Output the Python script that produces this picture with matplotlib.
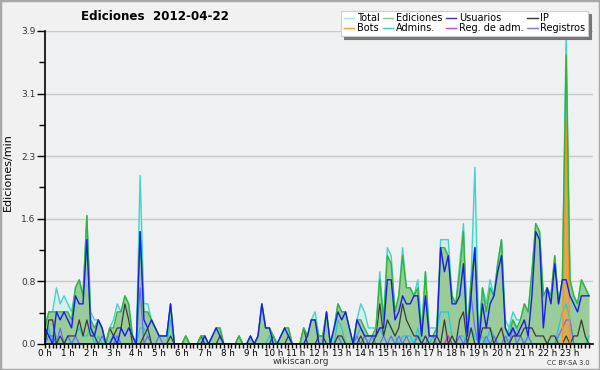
import numpy as np
import matplotlib
matplotlib.use("Agg")
import matplotlib.pyplot as plt
from matplotlib.patches import Rectangle

# Ediciones por minuto, tramos de 10 minutos (6 por hora), 2012-04-22
total = [0.2, 0.4, 0.4, 0.7, 0.5, 0.6, 0.5, 0.4, 0.7, 0.8, 0.6, 1.6,
         0.4, 0.3, 0.3, 0.2, 0.0, 0.2, 0.3, 0.5, 0.4, 0.6, 0.5, 0.1,
         0.0, 2.1, 0.5, 0.5, 0.3, 0.2, 0.1, 0.1, 0.1, 0.5, 0.0, 0.0,
         0.0, 0.1, 0.0, 0.0, 0.0, 0.1, 0.1, 0.0, 0.1, 0.2, 0.2, 0.0,
         0.0, 0.0, 0.0, 0.1, 0.0, 0.0, 0.1, 0.0, 0.1, 0.5, 0.2, 0.2,
         0.1, 0.0, 0.1, 0.2, 0.2, 0.0, 0.0, 0.0, 0.2, 0.1, 0.3, 0.4,
         0.1, 0.1, 0.4, 0.0, 0.2, 0.5, 0.4, 0.4, 0.2, 0.0, 0.3, 0.5,
         0.4, 0.2, 0.2, 0.2, 0.9, 0.3, 1.2, 1.1, 0.4, 0.6, 1.2, 0.7,
         0.7, 0.6, 0.8, 0.2, 0.9, 0.2, 0.2, 0.2, 1.3, 1.3, 1.3, 0.6,
         0.5, 1.0, 1.5, 0.2, 0.8, 2.2, 0.1, 0.7, 0.5, 0.8, 0.6, 1.0,
         1.3, 0.3, 0.2, 0.4, 0.3, 0.3, 0.5, 0.4, 0.9, 1.5, 1.4, 0.6,
         0.7, 0.6, 1.1, 0.5, 0.8, 3.9, 0.8, 0.6, 0.5, 0.8, 0.7, 0.6]
ediciones = [0.2, 0.4, 0.4, 0.4, 0.4, 0.4, 0.4, 0.3, 0.7, 0.8, 0.6, 1.6,
             0.3, 0.2, 0.3, 0.2, 0.0, 0.2, 0.2, 0.4, 0.4, 0.6, 0.5, 0.1,
             0.0, 1.4, 0.4, 0.4, 0.3, 0.2, 0.1, 0.1, 0.1, 0.5, 0.0, 0.0,
             0.0, 0.1, 0.0, 0.0, 0.0, 0.1, 0.1, 0.0, 0.1, 0.2, 0.2, 0.0,
             0.0, 0.0, 0.0, 0.1, 0.0, 0.0, 0.1, 0.0, 0.1, 0.5, 0.2, 0.2,
             0.1, 0.0, 0.1, 0.2, 0.2, 0.0, 0.0, 0.0, 0.2, 0.1, 0.3, 0.3,
             0.1, 0.1, 0.4, 0.0, 0.2, 0.5, 0.4, 0.4, 0.2, 0.0, 0.3, 0.3,
             0.2, 0.1, 0.1, 0.2, 0.8, 0.3, 1.1, 1.0, 0.4, 0.6, 1.1, 0.7,
             0.7, 0.6, 0.7, 0.1, 0.9, 0.1, 0.1, 0.2, 1.2, 1.2, 1.1, 0.6,
             0.5, 0.9, 1.4, 0.1, 0.8, 1.2, 0.0, 0.7, 0.4, 0.7, 0.6, 1.0,
             1.3, 0.2, 0.1, 0.3, 0.2, 0.3, 0.5, 0.4, 0.9, 1.5, 1.4, 0.6,
             0.7, 0.6, 1.1, 0.5, 0.8, 3.6, 0.8, 0.6, 0.5, 0.8, 0.7, 0.6]
usuarios = [0.2, 0.1, 0.0, 0.4, 0.3, 0.4, 0.3, 0.2, 0.6, 0.5, 0.5, 1.3,
            0.2, 0.1, 0.3, 0.2, 0.0, 0.0, 0.1, 0.0, 0.2, 0.1, 0.2, 0.1,
            0.0, 1.4, 0.3, 0.2, 0.3, 0.2, 0.1, 0.1, 0.1, 0.5, 0.0, 0.0,
            0.0, 0.0, 0.0, 0.0, 0.0, 0.0, 0.1, 0.0, 0.1, 0.2, 0.1, 0.0,
            0.0, 0.0, 0.0, 0.0, 0.0, 0.0, 0.1, 0.0, 0.1, 0.5, 0.2, 0.2,
            0.0, 0.0, 0.1, 0.2, 0.1, 0.0, 0.0, 0.0, 0.0, 0.1, 0.3, 0.3,
            0.0, 0.0, 0.4, 0.0, 0.2, 0.4, 0.3, 0.4, 0.2, 0.0, 0.3, 0.2,
            0.1, 0.1, 0.1, 0.1, 0.2, 0.2, 0.8, 0.8, 0.3, 0.4, 0.6, 0.5,
            0.5, 0.6, 0.6, 0.1, 0.6, 0.1, 0.1, 0.1, 1.2, 0.9, 1.1, 0.5,
            0.5, 0.6, 1.0, 0.1, 0.6, 1.2, 0.0, 0.5, 0.2, 0.5, 0.6, 0.9,
            1.1, 0.2, 0.1, 0.2, 0.1, 0.2, 0.3, 0.1, 0.6, 1.4, 1.3, 0.2,
            0.7, 0.5, 1.0, 0.5, 0.8, 0.8, 0.6, 0.5, 0.4, 0.6, 0.6, 0.6]
ip = [0.0, 0.3, 0.3, 0.0, 0.1, 0.0, 0.1, 0.1, 0.1, 0.3, 0.1, 0.3,
      0.1, 0.1, 0.0, 0.0, 0.0, 0.2, 0.1, 0.2, 0.2, 0.5, 0.3, 0.0,
      0.0, 0.0, 0.1, 0.2, 0.0, 0.0, 0.0, 0.0, 0.0, 0.1, 0.0, 0.0,
      0.0, 0.1, 0.0, 0.0, 0.0, 0.1, 0.0, 0.0, 0.0, 0.0, 0.1, 0.0,
      0.0, 0.0, 0.0, 0.1, 0.0, 0.0, 0.0, 0.0, 0.0, 0.0, 0.0, 0.0,
      0.1, 0.0, 0.0, 0.0, 0.1, 0.0, 0.0, 0.0, 0.2, 0.0, 0.0, 0.0,
      0.1, 0.1, 0.0, 0.0, 0.0, 0.1, 0.1, 0.0, 0.0, 0.0, 0.0, 0.1,
      0.0, 0.0, 0.0, 0.1, 0.5, 0.1, 0.3, 0.2, 0.1, 0.2, 0.5, 0.3,
      0.2, 0.1, 0.1, 0.0, 0.1, 0.0, 0.0, 0.1, 0.0, 0.3, 0.0, 0.1,
      0.0, 0.3, 0.4, 0.0, 0.2, 0.0, 0.0, 0.2, 0.2, 0.2, 0.0, 0.1,
      0.2, 0.0, 0.0, 0.1, 0.1, 0.1, 0.2, 0.2, 0.2, 0.1, 0.1, 0.1,
      0.0, 0.1, 0.1, 0.0, 0.0, 0.1, 0.0, 0.1, 0.1, 0.3, 0.1, 0.0]
admins = [0.0, 0.2, 0.0, 0.1, 0.0, 0.0, 0.1, 0.0, 0.1, 0.2, 0.1, 0.1,
          0.2, 0.0, 0.1, 0.0, 0.0, 0.0, 0.1, 0.1, 0.0, 0.0, 0.0, 0.0,
          0.0, 0.2, 0.2, 0.1, 0.0, 0.0, 0.0, 0.0, 0.0, 0.3, 0.0, 0.0,
          0.0, 0.0, 0.0, 0.0, 0.0, 0.0, 0.0, 0.0, 0.0, 0.0, 0.0, 0.0,
          0.0, 0.0, 0.0, 0.0, 0.0, 0.0, 0.0, 0.0, 0.0, 0.0, 0.0, 0.1,
          0.0, 0.0, 0.0, 0.0, 0.0, 0.0, 0.0, 0.0, 0.0, 0.0, 0.0, 0.0,
          0.0, 0.0, 0.0, 0.0, 0.0, 0.3, 0.2, 0.0, 0.0, 0.0, 0.1, 0.2,
          0.1, 0.0, 0.0, 0.1, 0.2, 0.1, 0.3, 0.2, 0.1, 0.0, 0.1, 0.1,
          0.1, 0.0, 0.2, 0.0, 0.1, 0.0, 0.1, 0.2, 0.4, 0.4, 0.4, 0.1,
          0.0, 0.1, 0.1, 0.0, 0.2, 0.1, 0.0, 0.1, 0.0, 0.2, 0.1, 0.0,
          0.0, 0.0, 0.2, 0.3, 0.2, 0.1, 0.0, 0.1, 0.0, 0.0, 0.0, 0.0,
          0.0, 0.0, 0.0, 0.2, 0.4, 0.5, 0.3, 0.0, 0.0, 0.0, 0.0, 0.1]
bots = [0.0] * 137 + [2.8] + [0.0] * 6
registros = [0.0, 0.1, 0.1, 0.0, 0.2, 0.0, 0.1, 0.0, 0.1, 0.0, 0.0, 0.0,
             0.0, 0.0, 0.0, 0.1, 0.0, 0.0, 0.0, 0.1, 0.0, 0.0, 0.0, 0.0,
             0.0, 0.7, 0.0, 0.1, 0.0, 0.0, 0.1, 0.0, 0.0, 0.0, 0.0, 0.0,
             0.0, 0.0, 0.0, 0.0, 0.0, 0.0, 0.0, 0.0, 0.0, 0.0, 0.0, 0.0,
             0.0, 0.0, 0.0, 0.0, 0.0, 0.0, 0.0, 0.0, 0.0, 0.0, 0.0, 0.0,
             0.0, 0.0, 0.0, 0.0, 0.0, 0.0, 0.0, 0.0, 0.0, 0.0, 0.0, 0.0,
             0.0, 0.0, 0.0, 0.0, 0.0, 0.1, 0.0, 0.0, 0.0, 0.0, 0.1, 0.0,
             0.1, 0.0, 0.1, 0.0, 0.0, 0.1, 0.0, 0.1, 0.0, 0.1, 0.0, 0.1,
             0.0, 0.0, 0.1, 0.0, 0.0, 0.1, 0.1, 0.0, 0.0, 0.0, 0.1, 0.0,
             0.0, 0.1, 0.0, 0.1, 0.6, 0.2, 0.0, 0.0, 0.1, 0.0, 0.1, 0.0,
             0.0, 0.1, 0.0, 0.2, 0.0, 0.1, 0.0, 0.1, 0.0, 0.0, 0.0, 0.0,
             0.0, 0.0, 0.0, 0.1, 0.2, 0.3, 0.3, 0.0, 0.0, 0.0, 0.0, 0.0]
reg_adm = [0.0] * 106 + [0.1] + [0.0] * 37

hour_labels = [f"{h} h" for h in range(24)]
ytick_labels = ["0.0", "0.8", "1.6", "2.3", "3.1", "3.9"]
ymax = 3.9

t = np.arange(len(total)) / 6.0

fig = plt.figure(figsize=(6, 3.7), dpi=100, facecolor="#f1f1f1")
fig.patches.append(Rectangle((0, 0), 1, 1, transform=fig.transFigure,
                             fill=False, edgecolor="#a8a8a8", linewidth=2.5))
ax = fig.add_axes([0.075, 0.0703, 0.913, 0.846], facecolor="#eef0f2")

# areas
ax.fill_between(t, total, color="#d6eeee", lw=0)
ax.fill_between(t, ediciones, color="#99cc99", lw=0)
ax.fill_between(t, bots, color="#f0a040", alpha=0.7, lw=0)

# lines
ax.plot(t, admins, color="#22c8e0", lw=0.9)
ax.plot(t, registros, color="#6a6aff", lw=0.9)
ax.plot(t, reg_adm, color="#cc33cc", lw=0.9)
ax.plot(t, ip, color="#3a3a3a", lw=0.9)
ax.plot(t, bots, color="#ff9020", lw=1.0)
ax.plot(t, total, color="#40d4cc", lw=1.0)
ax.plot(t, ediciones, color="#33b333", lw=1.0)
ax.plot(t, usuarios, color="#1a1aee", lw=1.0)

ax.set_xlim(0, 24)
ax.set_ylim(0, ymax)

yt = [ymax / 5 * k for k in range(6)]
ax.set_yticks(yt)
ax.set_yticklabels(ytick_labels)
ax.set_yticks([ymax / 10 * (2 * k + 1) for k in range(5)], minor=True)
ax.set_xticks(range(24))
ax.set_xticklabels(hour_labels)
ax.set_xticks(np.arange(0, 24, 1 / 6), minor=True)

ax.grid(axis="y", which="major", color="#c8c8c8", lw=1)
ax.set_axisbelow(True)
for s in ("top", "right"):
    ax.spines[s].set_visible(False)
for s in ("left", "bottom"):
    ax.spines[s].set_color("black")
    ax.spines[s].set_linewidth(1.2)

ax.tick_params(axis="y", which="major", length=6, width=1, labelsize=6.5,
               pad=1, colors="black", labelcolor="#333333")
ax.tick_params(axis="y", which="minor", length=4, width=1)
ax.tick_params(axis="x", which="major", length=3, width=1, labelsize=6.3,
               pad=0.5)
ax.tick_params(axis="x", which="minor", length=3, width=1)

ax.set_ylabel("Ediciones/min", fontsize=8, labelpad=3)
ax.yaxis.set_label_coords(-0.058, 0.55)

fig.text(155 / 600, 1 - 17 / 370, "Ediciones  2012-04-22", fontsize=8.6,
         fontweight="bold", ha="center", va="center")
fig.text(301 / 600, 1 - 362 / 370, "wikiscan.org", fontsize=6.5,
         ha="center", va="center", color="#333333")
fig.text(590 / 600, 1 - 363 / 370, "CC BY-SA 3.0", fontsize=4.8,
         ha="right", va="center", color="#333333")

# legend
names = ["Total", "Bots", "Ediciones", "Admins.", "Usuarios",
         "Reg. de adm.", "IP", "Registros"]
colors = ["#b0e4e4", "#ff9933", "#88cc88", "#33ccdd", "#3333dd",
          "#cc44cc", "#333333", "#7777ee"]
handles = [plt.Line2D([], [], color=c, lw=1) for c in colors]
leg = fig.legend(handles, names, ncol=4, fontsize=7, loc="upper right",
                 bbox_to_anchor=(588 / 600, 1 - 11 / 370), frameon=True,
                 fancybox=False, shadow={"color": "#777777", "alpha": 1},
                 handlelength=1.1, handletextpad=0.3, columnspacing=0.3,
                 labelspacing=0.0, borderpad=0.25, borderaxespad=0)
leg.get_frame().set_edgecolor("#cccccc")
leg.get_frame().set_linewidth(0.8)

fig.savefig("out.png", dpi=100, facecolor=fig.get_facecolor())
